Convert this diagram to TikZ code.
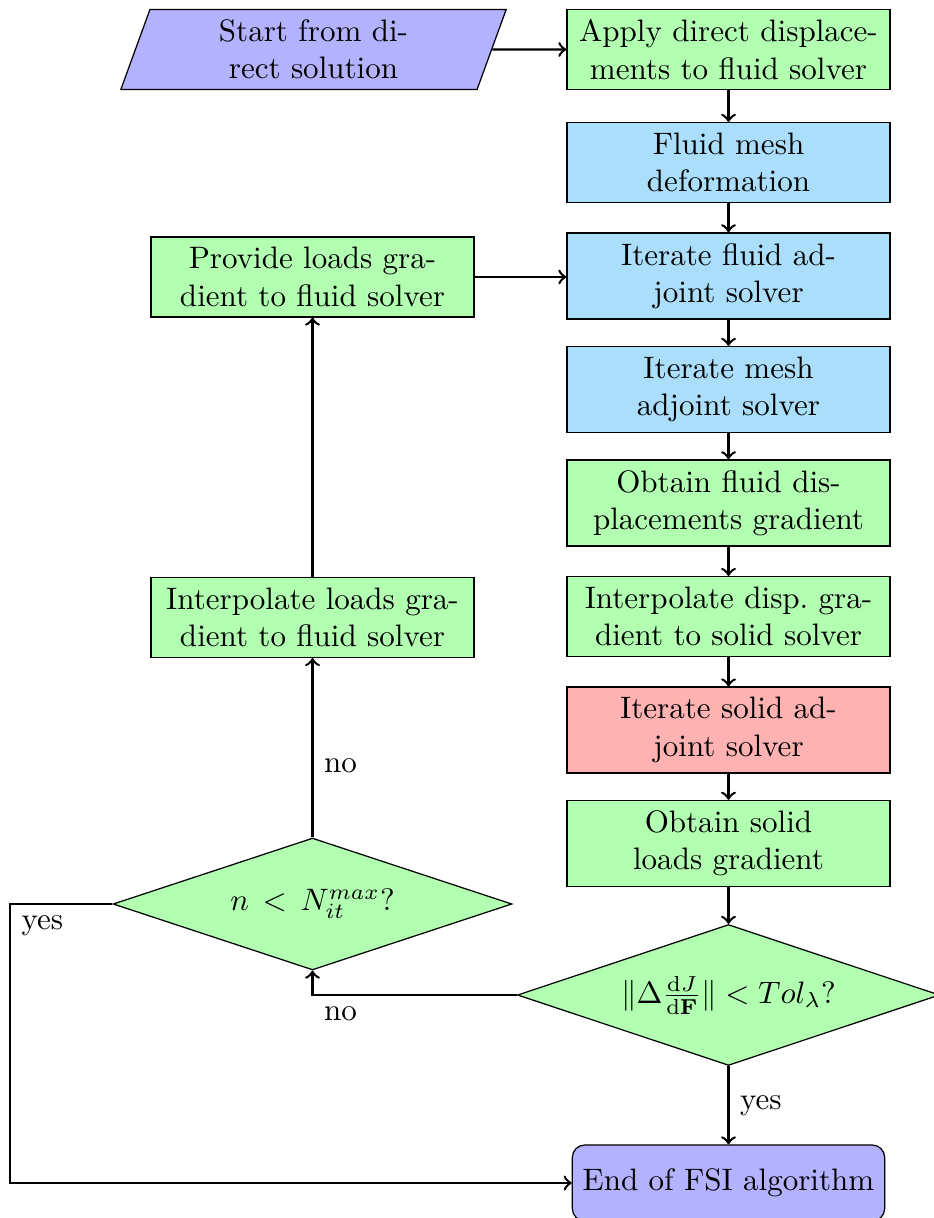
\documentclass[tikz,border=0pt]{standalone}
\usetikzlibrary{shapes.geometric}
\definecolor{meshblue}{RGB}{170,222,250}
\begin{document}
\begin{tikzpicture}[
    x=0.32216pt, y=-0.32216pt,
    box/.style={rectangle, draw, text width=97.4pt, align=center, inner sep=0.3333em},
    fluidstep/.style={box, fill=green!30},
    meshstep/.style={box, fill=meshblue},
    solidstep/.style={box, fill=red!30},
    io/.style={trapezium, trapezium left angle=70, trapezium right angle=110,
               draw, fill=blue!30, text width=98.7pt, align=center, inner sep=0.3333em},
    decision/.style={diamond, draw, fill=green!30, inner sep=0pt, aspect=3},
    terminal/.style={rectangle, rounded corners=4pt, draw, fill=blue!30,
                     minimum height=24.5pt, align=center},
    flow/.style={->, thick}
  ]
  \useasboundingbox (0,0) rectangle (933,1218);

  % adjoint chain on the right
  \node[fluidstep] (apply)      at (728.5,49.5)  {Apply direct displace-\\ments to fluid solver};
  \node[meshstep]  (mesh)       at (728.5,162.5) {Fluid mesh\\deformation};
  \node[meshstep]  (fluidadj)   at (728.5,276)   {Iterate fluid ad-\\joint solver};
  \node[meshstep]  (meshadj)    at (728.5,389.5) {Iterate mesh\\adjoint solver};
  \node[fluidstep] (obtfluid)   at (728.5,503)   {Obtain fluid dis-\\placements gradient};
  \node[fluidstep] (interpdisp) at (728.5,616.5) {Interpolate disp.\ gra-\\dient to solid solver};
  \node[solidstep] (solidadj)   at (728.5,730)   {Iterate solid ad-\\joint solver};
  \node[fluidstep] (obtsolid)   at (728.5,843.5) {Obtain solid\\loads gradient};
  \node[decision, minimum width=136pt, minimum height=45.4pt] (check) at (728.5,995)
    {$\|\Delta\frac{\mathrm{d}J}{\mathrm{d}\mathbf{F}}\| < Tol_\lambda$?};
  \node[terminal] (end) at (728.5,1183) {End of FSI algorithm};

  % start and feedback loop on the left
  \node[io]        (start)      at (313.5,49.5)  {Start from di-\\rect solution};
  \node[fluidstep] (provide)    at (312.5,277)   {Provide loads gra-\\dient to fluid solver};
  \node[fluidstep] (interpload) at (312.5,617.5) {Interpolate loads gra-\\dient to fluid solver};
  \node[decision, minimum width=128.5pt, minimum height=42.5pt] (iter) at (312.5,904)
    {$n \,<\, N_{it}^{max}$?};
  \coordinate (leftc) at (10,904);

  % connectors
  \draw[flow] (start.east) -- (apply.west);
  \draw[flow] (apply) -- (mesh);
  \draw[flow] (mesh) -- (fluidadj);
  \draw[flow] (fluidadj) -- (meshadj);
  \draw[flow] (meshadj) -- (obtfluid);
  \draw[flow] (obtfluid) -- (interpdisp);
  \draw[flow] (interpdisp) -- (solidadj);
  \draw[flow] (solidadj) -- (obtsolid);
  \draw[flow] (obtsolid) -- (check);
  \draw[flow] (check) -- node[right] {yes} (end);
  \draw[flow] (check.west) -| node[pos=0.5, anchor=north west] {no} (iter.south);
  \draw[flow] (iter) -- node[pos=0.4, right] {no} (interpload);
  \draw[flow] (interpload) -- (provide);
  \draw[flow] (provide.east) -- (provide.east -| fluidadj.west);
  \draw[flow] (iter.west) -- node[pos=1, anchor=north west] {yes} (leftc) |- (end.west);
\end{tikzpicture}
\end{document}
